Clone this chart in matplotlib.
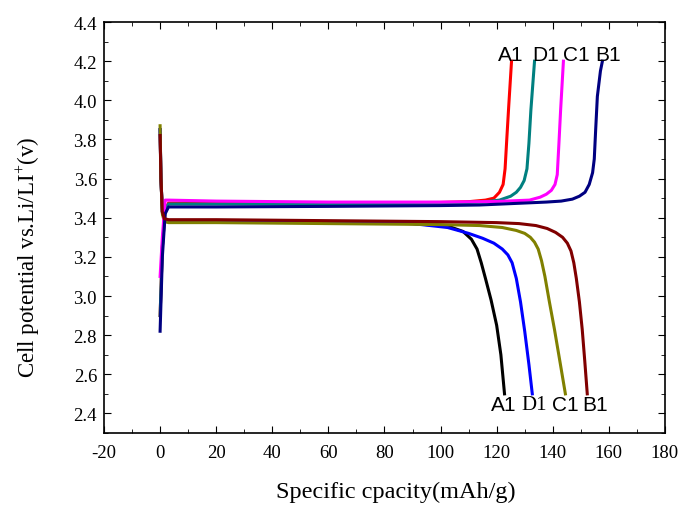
import matplotlib
matplotlib.use('Agg')
import matplotlib.pyplot as plt
from matplotlib.ticker import MultipleLocator

plt.rcParams['font.family'] = 'Liberation Serif'
plt.rcParams['mathtext.fontset'] = 'custom'
plt.rcParams['mathtext.rm'] = 'Liberation Serif'
plt.rcParams['axes.unicode_minus'] = False

# charge curves (upper)
a1_chg_x = [0, 0.8, 1.8, 3, 20, 60, 100, 110, 116, 119, 121, 122.3, 123, 123.6, 124.3, 125.3]
a1_chg_y = [2.9, 3.25, 3.44, 3.475, 3.475, 3.475, 3.478, 3.482, 3.49, 3.50, 3.53, 3.57, 3.65, 3.8, 3.97, 4.2]
d1_chg_x = [0, 0.8, 1.8, 3, 20, 60, 100, 115, 121, 125, 127, 128.5, 129.8, 130.8, 131.5, 132.2, 133.5]
d1_chg_y = [2.9, 3.25, 3.44, 3.47, 3.47, 3.47, 3.474, 3.48, 3.49, 3.51, 3.53, 3.555, 3.59, 3.65, 3.78, 3.95, 4.2]
c1_chg_x = [0, 0.8, 1.8, 3, 20, 60, 100, 120, 131.7, 135.5, 137.7, 139.5, 140.8, 141.6, 142.2, 142.8, 143.8]
c1_chg_y = [3.1, 3.3, 3.49, 3.49, 3.485, 3.48, 3.48, 3.483, 3.49, 3.505, 3.52, 3.54, 3.57, 3.62, 3.78, 3.95, 4.2]
b1_chg_x = [0, 0.8, 1.8, 3, 20, 60, 100, 113.9, 137.7, 143, 147, 149.5, 151.5, 153, 154.2, 154.8, 155.3, 155.9, 157, 157.7]
b1_chg_y = [2.82, 3.2, 3.42, 3.455, 3.455, 3.458, 3.462, 3.465, 3.48, 3.485, 3.495, 3.51, 3.53, 3.57, 3.63, 3.7, 3.85, 4.02, 4.15, 4.2]

# discharge curves (lower)
a1_dis_x = [0, 0.3, 0.8, 1.5, 3, 20, 60, 90, 100, 104, 108, 111, 113, 114.5, 116, 118, 120, 121.5, 122.8]
a1_dis_y = [3.85, 3.6, 3.43, 3.395, 3.385, 3.385, 3.38, 3.37, 3.36, 3.35, 3.33, 3.29, 3.24, 3.17, 3.09, 2.98, 2.85, 2.7, 2.5]
d1_dis_x = [0, 0.3, 0.8, 1.5, 3, 20, 60, 90, 102.5, 110, 115, 119, 122, 124, 125.5, 127, 128.5, 130, 131.5, 132.7]
d1_dis_y = [3.85, 3.6, 3.43, 3.395, 3.385, 3.385, 3.38, 3.37, 3.35, 3.32, 3.295, 3.27, 3.24, 3.21, 3.17, 3.09, 2.97, 2.82, 2.65, 2.5]
c1_dis_x = [0, 0.3, 0.8, 1.5, 3, 20, 60, 100, 114, 122, 127, 130, 132, 133.5, 134.8, 136, 137.2, 138.8, 140.6, 142.5, 144.5]
c1_dis_y = [3.87, 3.6, 3.42, 3.38, 3.375, 3.375, 3.37, 3.365, 3.36, 3.35, 3.335, 3.32, 3.30, 3.275, 3.24, 3.18, 3.10, 2.97, 2.83, 2.67, 2.5]
b1_dis_x = [0, 0.3, 0.8, 1.5, 3, 20, 60, 100, 120, 128, 134, 138, 141, 143.5, 145.2, 146.5, 147.5, 148.4, 149.5, 150.5, 151.4, 152.3]
b1_dis_y = [3.82, 3.6, 3.43, 3.395, 3.39, 3.39, 3.385, 3.38, 3.375, 3.37, 3.36, 3.345, 3.325, 3.30, 3.27, 3.23, 3.17, 3.09, 2.97, 2.83, 2.67, 2.5]

fig = plt.figure(figsize=(6.82, 5.06), dpi=100)
ax = fig.add_axes([0.1525, 0.1423, 0.8225, 0.8122])

lw = 2.2
ax.plot(a1_dis_x, a1_dis_y, color='black', lw=lw)
ax.plot(d1_dis_x, d1_dis_y, color='#0000ff', lw=lw)
ax.plot(c1_dis_x, c1_dis_y, color='#808000', lw=lw)
ax.plot(a1_chg_x, a1_chg_y, color='#ff0000', lw=lw)
ax.plot(d1_chg_x, d1_chg_y, color='#008080', lw=lw)
ax.plot(c1_chg_x, c1_chg_y, color='#ff00ff', lw=lw)
ax.plot(b1_chg_x, b1_chg_y, color='#000080', lw=lw)
ax.plot(b1_dis_x, b1_dis_y, color='#800000', lw=lw)

# curve labels
sans = 'Liberation Sans'
fs = 15
ax.text(125.0, 4.236, 'A1', family=sans, fontsize=fs, ha='center', va='center')
ax.text(137.5, 4.236, 'D1', family=sans, fontsize=fs, ha='center', va='center')
ax.text(148.3, 4.236, 'C1', family=sans, fontsize=fs, ha='center', va='center')
ax.text(159.6, 4.236, 'B1', family=sans, fontsize=fs, ha='center', va='center')
ax.text(122.5, 2.446, 'A1', family=sans, fontsize=fs, ha='center', va='center')
ax.text(133.5, 2.446, 'D1', fontsize=fs, ha='center', va='center')
ax.text(144.6, 2.446, 'C1', family=sans, fontsize=fs, ha='center', va='center')
ax.text(155.2, 2.446, 'B1', family=sans, fontsize=fs, ha='center', va='center')

ax.set_xlim(-20, 180)
ax.set_ylim(2.3, 4.4)
ax.xaxis.set_major_locator(MultipleLocator(20))
ax.xaxis.set_minor_locator(MultipleLocator(10))
ax.yaxis.set_major_locator(MultipleLocator(0.2))
ax.yaxis.set_minor_locator(MultipleLocator(0.1))
ax.yaxis.set_major_formatter(plt.FormatStrFormatter('%.1f'))
ax.tick_params(which='both', direction='in', top=True, right=True, labelsize=13.5)
ax.tick_params(which='major', length=5, pad=5)
ax.tick_params(axis='x', which='major', pad=8)
ax.tick_params(which='minor', length=3)
for s in ax.spines.values():
    s.set_linewidth(1.2)

ax.set_xlabel('Specific cpacity(mAh/g)', fontsize=17.5)
ax.set_ylabel(r'Cell potential vs.Li/LI$^{+}$(v)', fontsize=16.5)
ax.xaxis.set_label_coords(0.52, -0.117)
ax.yaxis.set_label_coords(-0.11, 0.43)

fig.savefig('out.png', dpi=100)
